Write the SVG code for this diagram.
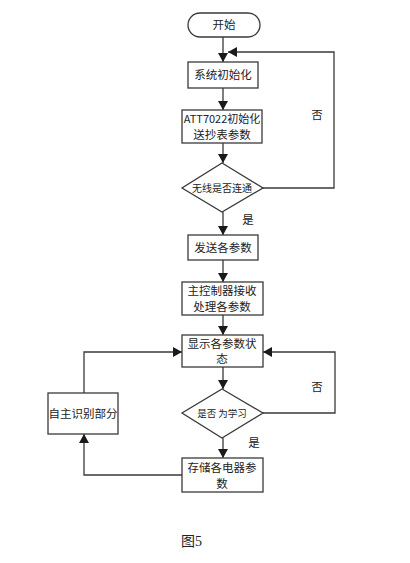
<svg xmlns="http://www.w3.org/2000/svg" width="410" height="563" viewBox="0 0 410 563">
<defs>
<marker id="ah" markerWidth="10" markerHeight="10" refX="9" refY="5" orient="auto" markerUnits="userSpaceOnUse">
<path d="M0,0 L9,5 L0,10 Z" fill="#1a1a1a"/>
</marker>
<style>
.n{fill:#fff;stroke:#3a3a3a;stroke-width:1.3}
.t{font-family:"Noto Sans CJK SC","Liberation Sans",sans-serif;font-size:11.5px;fill:#222;text-anchor:middle}
.s{font-size:10px}
.c{fill:none;stroke:#3a3a3a;stroke-width:1.3;marker-end:url(#ah)}
.l{fill:none;stroke:#3a3a3a;stroke-width:1.3}
</style>
</defs>
<rect width="410" height="563" fill="#fff"/>
<g id="connectors">
<line class="c" x1="223" y1="37" x2="223" y2="62"/>
<line class="c" x1="223" y1="88" x2="223" y2="110"/>
<line class="c" x1="223" y1="143" x2="223" y2="163"/>
<polyline class="c" points="263,188 334,188 334,52 228,52"/>
<line class="c" x1="223" y1="212" x2="223" y2="235"/>
<line class="c" x1="223" y1="260" x2="223" y2="282"/>
<line class="c" x1="223" y1="315" x2="223" y2="335"/>
<line class="c" x1="223" y1="367" x2="223" y2="389"/>
<polyline class="c" points="263,413 335,413 335,352 263,352"/>
<line class="c" x1="223" y1="438" x2="223" y2="458"/>
<polyline class="c" points="182,475 84,475 84,434"/>
<polyline class="c" points="84,393 84,352 182,352"/>
<text class="t" x="317" y="119">否</text>
<text class="t" x="248" y="224">是</text>
<text class="t" x="317" y="391">否</text>
<text class="t" x="254" y="447">是</text>
</g>
<g id="start">
<rect class="n" x="188" y="13" width="72" height="24" rx="12"/>
<text class="t" x="224" y="29">开始</text>
</g>
<g id="init">
<rect class="n" x="188" y="62" width="70" height="26"/>
<text class="t" x="223" y="79">系统初始化</text>
</g>
<g id="att">
<rect class="n" x="182" y="110" width="80" height="33"/>
<text class="t" x="222" y="123" style="font-size:11px">ATT7022初始化</text>
<text class="t" x="222" y="139">送抄表参数</text>
</g>
<g id="wireless">
<polygon class="n" points="222,163 263,188 222,212 182,188"/>
<text class="t s" x="222" y="192">无线是否连通</text>
</g>
<g id="send">
<rect class="n" x="188" y="235" width="70" height="25"/>
<text class="t" x="223" y="252">发送各参数</text>
</g>
<g id="process">
<rect class="n" x="182" y="282" width="81" height="33"/>
<text class="t" x="222" y="295">主控制器接收</text>
<text class="t" x="222" y="311">处理各参数</text>
</g>
<g id="display">
<rect class="n" x="182" y="335" width="81" height="32"/>
<text class="t" x="222" y="348">显示各参数状</text>
<text class="t" x="222" y="363">态</text>
</g>
<g id="learn">
<polygon class="n" points="222,389 263,413 222,438 182,413"/>
<text class="t s" x="222" y="417" style="font-size:9.5px">是否 为学习</text>
</g>
<g id="store">
<rect class="n" x="182" y="458" width="81" height="34"/>
<text class="t" x="222" y="472">存储各电器参</text>
<text class="t" x="222" y="488">数</text>
</g>
<g id="auto">
<rect class="n" x="48" y="393" width="70" height="41"/>
<text class="t" x="83" y="418">自主识别部分</text>
</g>
<text x="181" y="546" style="font-family:'Liberation Serif','Noto Sans CJK SC',serif;font-size:14px;fill:#222">图5</text>
</svg>
